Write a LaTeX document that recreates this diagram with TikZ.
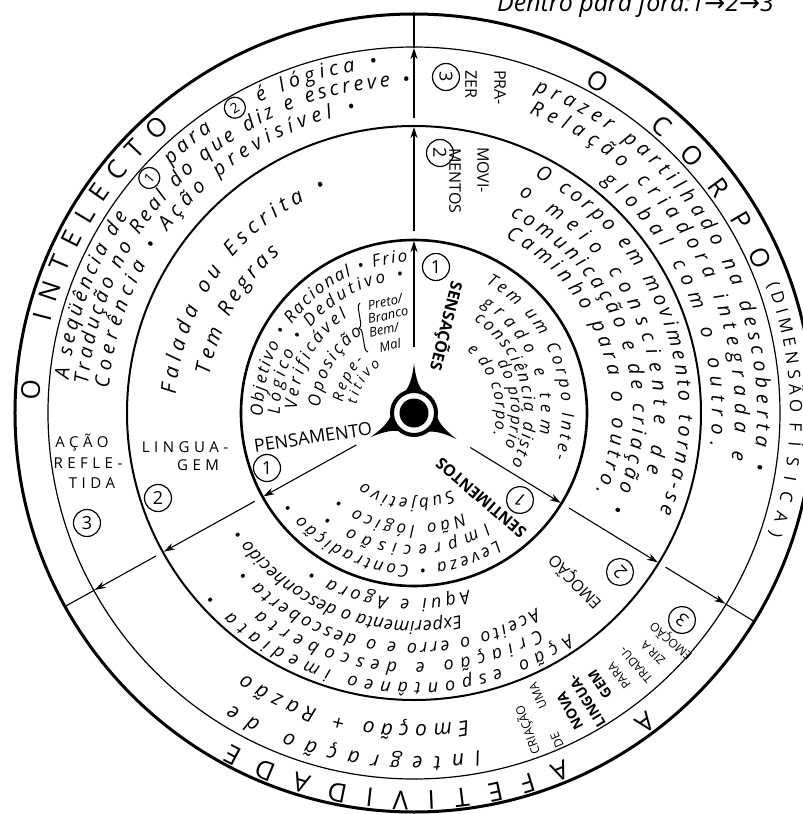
\documentclass[tikz,border=0pt]{standalone}
\usepackage{fontspec}
\setmainfont{Open Sans}
\newfontfamily\djv{DejaVu Sans}
\newfontfamily\spaced{Open Sans}[LetterSpace=30]
\usetikzlibrary{decorations.text,decorations.pathreplacing,arrows.meta}
\newcommand\fz[1]{\fontsize{#1pt}{#1pt}\selectfont}
\newcommand\fR{\fz{20}\itshape}
\newcommand\fS{\fz{18}\itshape}
\newcommand\fB{\fz{21}\itshape}
\newcommand\fI{\fz{17}\itshape}
\newcommand\fO{\fz{26}}
\newcommand\fD{\fz{17}}
\newcommand\arctxt[5]{\path[decorate,decoration={text along path,text align={fit to path},text={|#1|#5}}] (#3:#2pt) arc[start angle=#3,end angle=#4,radius=#2pt];}
\tikzset{
  rad/.style={line width=1.1pt},
  arr/.style={rad,-{Stealth[length=11pt,width=7pt,inset=3.5pt]}},
  cnum/.style={circle,draw,line width=1.2pt,inner sep=0pt,minimum size=27pt,font=\fz{18}},
  lab/.style={inner sep=0pt,font=\fz{16}},
  slab/.style={inner sep=0pt,font=\spaced\fz{15}},
  blab/.style={inner sep=0pt,font=\fz{16}\bfseries},
  small/.style={inner sep=0pt,font=\fz{12}},
  smallb/.style={inner sep=0pt,font=\fz{14}\bfseries},
  itl/.style={inner sep=0pt,font=\fz{13}\itshape},
}
\begin{document}
\begin{tikzpicture}[x=1pt,y=1pt]
\useasboundingbox[fill=white] (-414,-401) rectangle (389,413);
\coordinate (O) at (0,0);
% circles
\draw[line width=3pt] (O) circle[radius=399pt];
\draw[line width=1.2pt] (O) circle[radius=366pt];
\draw[line width=2pt] (O) circle[radius=287pt];
\draw[line width=2.6pt] (O) circle[radius=173pt];
% radial connectors
\foreach \a/\n in {90/u,209/l,-31.5/r}{
  \coordinate (\n1) at (\a:66pt);
  \coordinate (\n2) at (\a:172pt);
  \coordinate (\n3) at (\a:182pt);
  \coordinate (\n4) at (\a:286pt);
  \coordinate (\n5) at (\a:295pt);
  \coordinate (\n6) at (\a:365pt);
  \coordinate (\n7) at (\a:399pt);
  \draw[arr] (\n1) -- (\n2);
  \draw[arr] (\n3) -- (\n4);
  \draw[arr] (\n5) -- (\n6);
  \draw[rad] (\n6) -- (\n7);
}
% central emblem
\fill (O) circle[radius=14.5pt];
\draw[line width=4pt] (O) circle[radius=22pt];
\foreach \a in {90,209,-31.5}{
  \fill ({\a-24}:23pt) .. controls ({\a-10}:27pt) and ({\a-3}:34pt) .. (\a:50pt) .. controls ({\a+3}:34pt) and ({\a+10}:27pt) .. ({\a+24}:23pt) -- cycle;
}
% top note
\node[anchor=base west,font=\fz{25}\itshape,inner sep=0pt] (note) at (83,401) {Dentro para fora:1{\djv→}2{\djv→}3};
% outer ring
\node[rotate=86.5,font=\fO,inner sep=0pt] (oI) at (176.5:384pt) {O};
\arctxt{\fO}{375}{166}{130.5}{INTELECTO}
\node[rotate=-29,font=\fO,inner sep=0pt] (oC) at (61:379pt) {O};
\arctxt{\fO}{370}{50.5}{22.5}{CORPO}
\arctxt{\fD}{376}{20}{0}{(DIMENSÃO}
\arctxt{\fD}{376}{-1.5}{-19}{FÍSICA)}
\node[rotate=-143.3,font=\fO,inner sep=0pt] (aA) at (-53.3:387pt) {A};
\arctxt{\fO}{378}{-66.5}{-119}{AFETIVIDADE}
% ring 3 - intelecto
\arctxt{\fR}{347}{174.5}{145.5}{A seqüência de}
\node[cnum,minimum size=21pt,font=\fz{14},rotate=48.4] (c1a) at (138.4:354pt) {1};
\arctxt{\fR}{347}{134.5}{125.5}{para}
\node[cnum,minimum size=21pt,font=\fz{14},rotate=30.4] (c2a) at (120.4:354pt) {2};
\arctxt{\fR}{347}{116.5}{96}{é lógica •}
\arctxt{\fR}{327}{175}{90.8}{Tradução no Real do que diz e escreve •}
\arctxt{\fR}{306}{175.5}{101}{Coerência • Ação previsível •}
\node[slab] (acao) at (-332,-30) {AÇÃO};
\node[slab] (refle) at (-326,-50) {REFLE-};
\node[slab] (tida) at (-322,-70) {TIDA};
\node[cnum] (c3a) at (-327,-110) {3};
% ring 3 - corpo
\node[cnum,rotate=-90] (c3b) at (32,336) {3};
\node[lab,rotate=-90,anchor=west] (pra) at (86,343) {PRA-};
\node[lab,rotate=-90,anchor=west] (zer) at (57,343) {ZER};
\arctxt{\fR}{343}{69.5}{-9.5}{prazer partilhado na descoberta •}
\arctxt{\fR}{321}{69}{-8.5}{Relação criadora integrada e}
\arctxt{\fR}{298}{51}{-6.5}{global com o outro.}
% ring 3 - afetividade
\arctxt{\fB}{344}{-79}{-122}{Integração de}
\arctxt{\fB}{312}{-80}{-123}{Emoção + Razão}
\node[small,rotate=110] (cr1) at (114,-317) {CRIAÇÃO};
\node[small,rotate=114] (cr2a) at (143,-327) {DE};
\node[small,rotate=114] (cr2b) at (124,-283) {UMA};
\node[smallb,rotate=118] (cr3) at (156,-298) {NOVA};
\node[smallb,rotate=121] (cr4) at (173,-288) {LINGUA-};
\node[smallb,rotate=124] (cr5) at (186,-271) {GEM};
\node[small,rotate=128] (cr6) at (205,-263) {PARA};
\node[small,rotate=131] (cr7) at (222,-252) {TRADU-};
\node[small,rotate=135] (cr8) at (239,-240) {ZIR A};
\node[small,rotate=139] (cr9) at (257,-228) {EMOÇÃO};
\node[cnum,rotate=140] (c3c) at (268,-207) {3};
% ring 2 - linguagem
\arctxt{\fB}{239}{175.5}{111.5}{Falada ou Escrita •}
\arctxt{\fB}{208}{169.5}{130}{Tem Regras}
\node[slab] (ling) at (-229,-34) {LINGUA-};
\node[slab] (gem) at (-216,-52) {GEM};
\node[cnum] (c2b) at (-256,-85) {2};
% ring 2 - movimentos
\node[cnum,rotate=-90] (c2c) at (26,260) {2};
\node[lab,rotate=-90,anchor=west] (movi) at (69,266) {MOVI-};
\node[lab,rotate=-90,anchor=west] (mentos) at (41,265) {MENTOS};
\arctxt{\fR}{265}{63}{-22}{O corpo em movimento torna-se}
\node[font=\fR,rotate=-27,inner sep=0pt] (o1) at (63:247pt) {o};
\arctxt{\fR}{240}{57}{-14.5}{meio consciente de}
\arctxt{\fR}{219}{64}{-26.5}{comunicação e de criação •}
\arctxt{\fR}{198}{62.5}{-23.5}{Caminho para o outro.}
% ring 2 - emocao
\node[lab,rotate=134] (emo) at (161,-169) {EMOÇÃO};
\node[cnum,rotate=134] (c2d) at (206,-159) {2};
\arctxt{\fS}{186}{-73}{-123}{Aqui e Agora •}
\arctxt{\fS}{208}{-77}{-146}{Experimenta o desconhecido •}
\arctxt{\fS}{230}{-58}{-137}{Aceito o erro e o descoberta •}
\arctxt{\fS}{250}{-60}{-128}{Criação e descoberta}
\arctxt{\fS}{270}{-55}{-138}{Ação espontâneo imediata •}
% inner - pensamento
\arctxt{\fI}{151}{181.5}{92.5}{Objetivo • Racional • Frio}
\arctxt{\fI}{134}{180.5}{94.5}{Lógico • Dedutivo •}
\arctxt{\fI}{117}{178.5}{124.5}{Verificável}
\arctxt{\fI}{94}{176.5}{123}{Oposição}
\arctxt{\fz{15}\itshape}{72}{172}{134}{Repe-}
\arctxt{\fz{14}\itshape}{58}{171.5}{125}{titivo}
\coordinate (br1) at (-46,61);
\coordinate (br2) at (-54,110);
\draw[decorate,decoration={brace,amplitude=5pt},line width=1pt] (br1) -- (br2);
\node[itl,rotate=12] (preto) at (-29,111) {Preto/};
\node[itl,rotate=12] (branco) at (-26,98) {Branco};
\node[itl,rotate=12] (bem) at (-30,83) {Bem/};
\node[itl,rotate=12] (mal) at (-24,68) {Mal};
\node[lab,font=\fz{18},rotate=8.5] (pens) at (-101,-24) {PENSAMENTO};
\node[cnum] (c1b) at (-147,-55) {1};
% inner - sensacoes
\node[cnum] (c1c) at (22,146) {1};
\node[blab,rotate=-104] (sens) at (32,87) {SENSAÇÕES};
\arctxt{\fI}{148}{61}{-18}{Tem um Corpo Inte-}
\arctxt{\fI}{127}{58}{-9.5}{grado e tem}
\arctxt{\fI}{110}{57}{-28}{consciência disto}
\arctxt{\fz{16}\itshape}{97}{31}{-20.5}{do próprio}
\arctxt{\fz{16}\itshape}{82}{50}{-15.5}{e do corpo.}
% inner - sentimentos
\node[blab,rotate=139.4] (sent) at (67,-85) {SENTIMENTOS};
\node[cnum,rotate=140] (c1d) at (106,-87) {1};
\arctxt{\fI}{86}{-64}{-126}{Subjetivo}
\arctxt{\fI}{112}{-64}{-131}{Não lógico •}
\arctxt{\fI}{132}{-57}{-130}{Imprecisão •}
\arctxt{\fI}{152}{-57}{-144}{Leveza • Contradição •}
\end{tikzpicture}
\end{document}
